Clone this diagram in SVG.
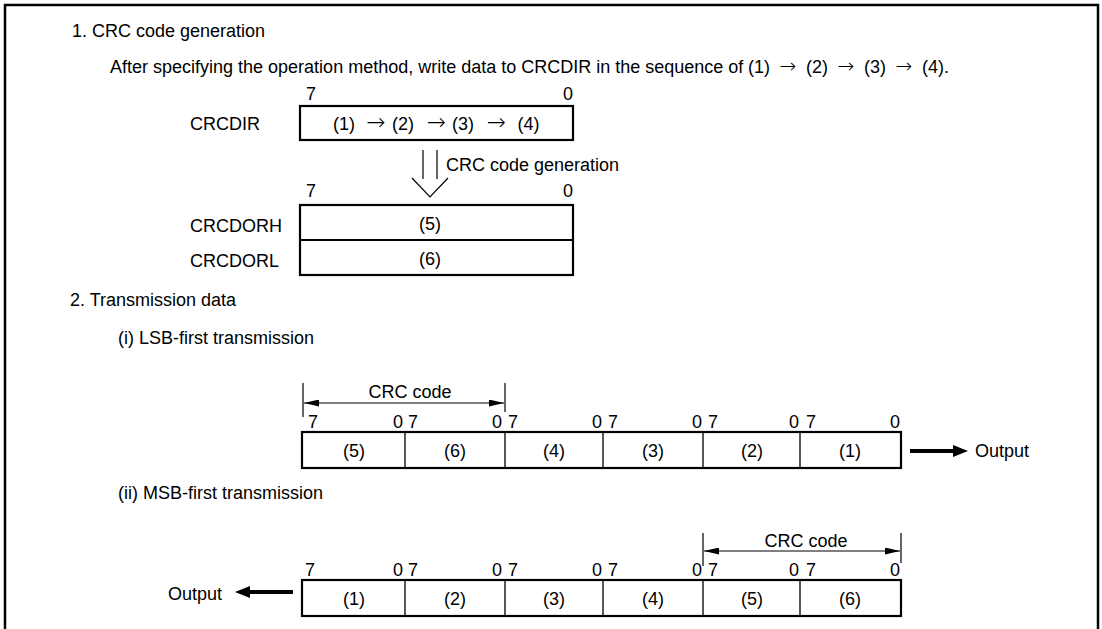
<svg xmlns="http://www.w3.org/2000/svg" width="1102" height="629" viewBox="0 0 1102 629">
<style>
text{font-family:"Liberation Sans",Arial,Helvetica,sans-serif;font-size:18px;fill:#000}
.m{text-anchor:middle}
.e{text-anchor:end}
.ar{font-family:"DejaVu Sans",sans-serif;font-weight:200}
.ar1{font-size:20px}
.ar2{font-size:23px}
.box{fill:#fff;stroke:#000;stroke-width:2.2}
.div{stroke:#000;stroke-width:1.3;fill:none}
.thin{stroke:#000;stroke-width:1.2;fill:none}
.thick{stroke:#000;stroke-width:4;fill:none}
</style>
<defs>
<marker id="dim" viewBox="0 0 15 7" markerWidth="15" markerHeight="7" refX="15" refY="3.5" orient="auto-start-reverse" markerUnits="userSpaceOnUse"><path d="M0,0 L15,3.5 L0,7 z" fill="#000"/></marker>
<marker id="out" viewBox="0 0 15 12" markerWidth="15" markerHeight="12" refX="0" refY="6" orient="auto" markerUnits="userSpaceOnUse"><path d="M0,0 L15,6 L0,12 z" fill="#000"/></marker>
</defs>
<rect width="1102" height="629" fill="#fff"/>
<path d="M5,640 V5 H1098 V640" fill="none" stroke="#000" stroke-width="2.5"/>

<g id="section1-title">
<text x="72" y="37">1. CRC code generation</text>
<text x="110" y="73">After specifying the operation method, write data to CRCDIR in the sequence of</text>
<text x="759" y="73" class="m">(1)</text>
<text x="788" y="73" class="m ar ar1">→</text>
<text x="817" y="73" class="m">(2)</text>
<text x="846" y="73" class="m ar ar1">→</text>
<text x="875" y="73" class="m">(3)</text>
<text x="904" y="73" class="m ar ar1">→</text>
<text x="933" y="73" class="m">(4)</text>
<text x="944" y="73">.</text>
</g>

<g id="crcdir">
<text x="190" y="130">CRCDIR</text>
<text x="306" y="100">7</text>
<text x="573" y="100" class="e">0</text>
<rect class="box" x="300" y="106" width="273" height="34"/>
<text x="344" y="130" class="m">(1)</text>
<text x="376" y="130" class="m ar ar2">→</text>
<text x="403" y="130" class="m">(2)</text>
<text x="436.5" y="130" class="m ar ar2">→</text>
<text x="463" y="130" class="m">(3)</text>
<text x="496.5" y="130" class="m ar ar2">→</text>
<text x="528.5" y="130" class="m">(4)</text>
</g>

<g id="crcdor">
<text x="306" y="197">7</text>
<text x="573" y="197" class="e">0</text>
<text x="190" y="232">CRCDORH</text>
<text x="190" y="267">CRCDORL</text>
<rect class="box" x="300" y="205" width="273" height="70"/>
<line class="box" x1="300" y1="240" x2="573" y2="240"/>
<text x="430" y="230" class="m">(5)</text>
<text x="430" y="265" class="m">(6)</text>
</g>

<g id="section2-title">
<text x="70" y="306">2. Transmission data</text>
<text x="118" y="344">(i) LSB-first transmission</text>
<text x="118" y="499">(ii) MSB-first transmission</text>
</g>

<g id="lsb-frame">
<rect class="box" x="302" y="432" width="599" height="36"/>
<path class="div" d="M405,432 V468 M505,432 V468 M603,432 V468 M703,432 V468 M800,432 V468"/>
<text x="308" y="428">7</text><text x="403" y="428" class="e">0</text>
<text x="408" y="428">7</text><text x="502" y="428" class="e">0</text>
<text x="508" y="428">7</text><text x="602" y="428" class="e">0</text>
<text x="608" y="428">7</text><text x="702" y="428" class="e">0</text>
<text x="708" y="428">7</text><text x="799" y="428" class="e">0</text>
<text x="806" y="428">7</text><text x="900" y="428" class="e">0</text>
<text x="354" y="457" class="m">(5)</text>
<text x="455" y="457" class="m">(6)</text>
<text x="554" y="457" class="m">(4)</text>
<text x="653" y="457" class="m">(3)</text>
<text x="752" y="457" class="m">(2)</text>
<text x="850" y="457" class="m">(1)</text>
<text x="975" y="457">Output</text>
<text x="410" y="398" class="m">CRC code</text>
</g>

<g id="msb-frame">
<rect class="box" x="302" y="580" width="599" height="36"/>
<path class="div" d="M405,580 V616 M505,580 V616 M603,580 V616 M703,580 V616 M800,580 V616"/>
<text x="305" y="576">7</text><text x="403" y="576" class="e">0</text>
<text x="408" y="576">7</text><text x="502" y="576" class="e">0</text>
<text x="508" y="576">7</text><text x="602" y="576" class="e">0</text>
<text x="608" y="576">7</text><text x="702" y="576" class="e">0</text>
<text x="708" y="576">7</text><text x="799" y="576" class="e">0</text>
<text x="806" y="576">7</text><text x="900" y="576" class="e">0</text>
<text x="354" y="605" class="m">(1)</text>
<text x="455" y="605" class="m">(2)</text>
<text x="554" y="605" class="m">(3)</text>
<text x="653" y="605" class="m">(4)</text>
<text x="752" y="605" class="m">(5)</text>
<text x="850" y="605" class="m">(6)</text>
<text x="168" y="600">Output</text>
<text x="806" y="547" class="m">CRC code</text>
</g>

<g id="connectors">
<path class="thin" d="M423,150 V179 M437,150 V179 M412,178 L430,197 L448,178"/>
<text x="446" y="171">CRC code generation</text>
<path class="thin" d="M303,383 V417 M505,383 V412"/>
<line class="thin" x1="304" y1="403" x2="504" y2="403" marker-start="url(#dim)" marker-end="url(#dim)"/>
<path class="thin" d="M703,533 V566 M901,533 V563"/>
<line class="thin" x1="704" y1="551" x2="900" y2="551" marker-start="url(#dim)" marker-end="url(#dim)"/>
<line class="thick" x1="910" y1="451" x2="953" y2="451" marker-end="url(#out)"/>
<line class="thick" x1="293" y1="592" x2="250" y2="592" marker-end="url(#out)"/>
</g>
</svg>
